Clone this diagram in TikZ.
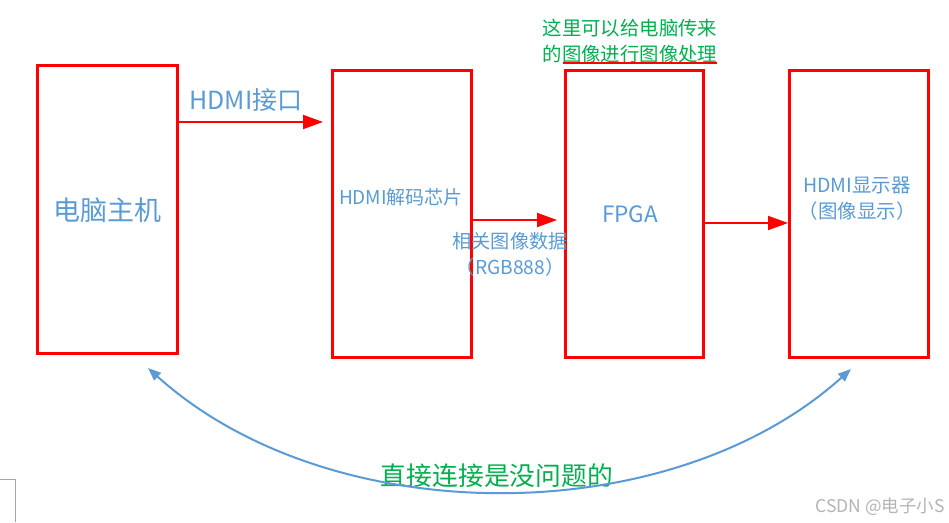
\documentclass[tikz,border=0pt]{standalone}
\usepackage{fontspec}
\setmainfont{Noto Sans CJK SC}
\usetikzlibrary{arrows.meta,calc}
\definecolor{boxred}{RGB}{255,0,0}
\definecolor{txtblue}{RGB}{91,155,213}
\definecolor{txtgreen}{RGB}{0,176,80}
\definecolor{wmgray}{RGB}{180,180,180}
\tikzset{
  blockbox/.style={draw=boxred, line width=3pt, outer sep=0pt, inner sep=0pt},
  redarrow/.style={draw=boxred, line width=2pt, -{Triangle[length=20pt,width=14pt]}},
  bluearc/.style={draw=txtblue, line width=2pt, {Triangle[length=13pt,width=10pt]}-{Triangle[length=13pt,width=10pt]}},
  bluetxt/.style={text=txtblue, inner sep=0pt, align=center},
  greentxt/.style={text=txtgreen, inner sep=0pt, align=center},
}
\begin{document}
\begin{tikzpicture}[x=1pt,y=-1pt]
\useasboundingbox (0,0) rectangle (949,522);
\fill[white] (0,0) rectangle (949,522);
% boxes
\node[blockbox, minimum width=140pt, minimum height=288pt] (b1) at (107,209) {};
\node[blockbox, minimum width=139pt, minimum height=287pt] (b2) at (401.5,213.5) {};
\node[blockbox, minimum width=138pt, minimum height=287pt] (b3) at (634,213.5) {};
\node[blockbox, minimum width=139pt, minimum height=287pt] (b4) at (858.5,213.5) {};
% texts
\node[bluetxt, font=\fontsize{27}{30}\selectfont] (t1) at (107,210) {电脑主机};
\node[bluetxt, font=\fontsize{19}{22}\selectfont] (t2) at (401,197) {HDMI解码芯片};
\node[bluetxt, font=\fontsize{22.5}{26}\selectfont] (t3) at (630,214) {FPGA};
\node[bluetxt, font=\fontsize{19.5}{26}\selectfont] (t4) at (857,199) {HDMI显示器\\（图像显示）};
\node[bluetxt, font=\fontsize{25}{28}\selectfont] (l1) at (246,100) {HDMI接口};
\node[bluetxt, font=\fontsize{19.2}{26}\selectfont] (l2) at (510,254) {相关图像数据\\（RGB888）};
\node[greentxt, font=\fontsize{19.4}{26}\selectfont] (g1) at (630,41) {这里可以给电脑传来\\的图像进行图像处理};
\node[greentxt, font=\fontsize{25.8}{30}\selectfont] (g2) at (497,476) {直接连接是没问题的};
\node[text=wmgray, inner sep=0pt, font=\fontsize{17.5}{20}\selectfont] (wm) at (880,507) {CSDN @电子小S};
% spell-check underline
\draw[boxred, line width=1.3pt] (563,63) -- (717,63);
% red arrows
\coordinate (y1) at (0,122);
\coordinate (y2) at (0,220);
\coordinate (y3) at (0,223);
\draw[redarrow, shorten >=9pt] (b1.east |- y1) -- (b2.west |- y1);
\draw[redarrow, shorten >=8pt] (b2.east |- y2) -- (b3.west |- y2);
\draw[redarrow, shorten >=1pt] (b3.east |- y3) -- (b4.west |- y3);
% blue arc
\coordinate (c1) at (148,368);
\coordinate (c2) at (851,369);
\draw[bluearc] (c1) .. controls (330,532) and (670,532) .. (c2);
% gray corner at bottom left
\draw[gray!70, line width=1pt] (0,479.5) -- (15.5,479.5) -- (15.5,522);
\end{tikzpicture}
\end{document}
